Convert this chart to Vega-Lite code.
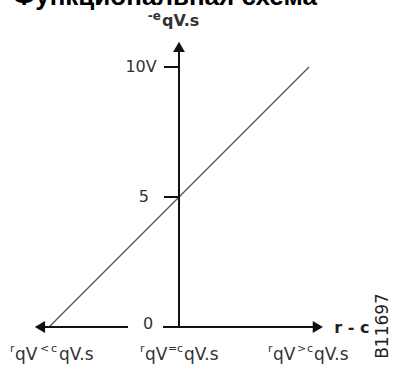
{
  "$schema": "https://vega.github.io/schema/vega-lite/v6.json",
  "width": 401,
  "height": 365,
  "autosize": {"type": "none"},
  "padding": 0,
  "background": "white",
  "config": {"view": {"stroke": null}},
  "datasets": {
    "curve": [{"x": -5, "y": 0}, {"x": 5, "y": 10}],
    "axes": [
      {"x": -1.96, "x2": -5.3, "y": 0, "y2": 0},
      {"x": -0.615, "x2": 5.3, "y": 0, "y2": 0},
      {"x": 0, "x2": 0, "y": 0, "y2": 10.75},
      {"x": -0.58, "x2": 0, "y": 10, "y2": 10},
      {"x": -0.58, "x2": 0, "y": 5, "y2": 5}
    ],
    "heads": [
      {"x": -5.35, "y": 0, "dir": "left"},
      {"x": 5.34, "y": 0, "dir": "right"},
      {"x": 0, "y": 10.77, "dir": "up"}
    ],
    "texts": [
      {"t": "Функциональная схема", "x": -6.385, "y": 12.4, "role": "title"},
      {"t": "0", "x": -1.19, "y": 0.115, "role": "tick"},
      {"t": "5", "x": -1.35, "y": 5.0, "role": "tick"},
      {"t": "10V", "x": -1.46, "y": 10.0, "role": "tick"},
      {"t": "r - c", "x": 6.65, "y": -0.04, "role": "axis"},
      {"t": "B11697", "x": 7.85, "y": 0.04, "role": "code"},
      {"t": "-e", "x": -1.2, "y": 11.82, "role": "topsmall"},
      {"t": "qV.s", "x": -0.654, "y": 11.58, "role": "topbig"},
      {"t": "r", "x": -6.5, "y": -0.96, "role": "subsmall"},
      {"t": "qV", "x": -6.308, "y": -1.27, "role": "subbig"},
      {"t": "<", "x": -5.346, "y": -0.96, "role": "subsmall"},
      {"t": "c", "x": -4.923, "y": -0.96, "role": "subsmall"},
      {"t": "qV.s", "x": -4.615, "y": -1.27, "role": "subbig"},
      {"t": "r", "x": -1.5, "y": -0.96, "role": "subsmall"},
      {"t": "qV", "x": -1.308, "y": -1.27, "role": "subbig"},
      {"t": "=", "x": -0.423, "y": -0.96, "role": "subsmall"},
      {"t": "c", "x": -0.077, "y": -0.96, "role": "subsmall"},
      {"t": "qV.s", "x": 0.192, "y": -1.27, "role": "subbig"},
      {"t": "r", "x": 3.423, "y": -0.96, "role": "subsmall"},
      {"t": "qV", "x": 3.615, "y": -1.27, "role": "subbig"},
      {"t": ">", "x": 4.538, "y": -0.96, "role": "subsmall"},
      {"t": "c", "x": 4.923, "y": -0.96, "role": "subsmall"},
      {"t": "qV.s", "x": 5.192, "y": -1.27, "role": "subbig"}
    ]
  },
  "encoding": {
    "x": {"field": "x", "type": "quantitative", "scale": {"domain": [-6.885, 8.538], "nice": false, "zero": false}, "axis": null},
    "y": {"field": "y", "type": "quantitative", "scale": {"domain": [-1.4615, 12.577], "nice": false, "zero": false}, "axis": null}
  },
  "layer": [
    {
      "data": {"name": "curve"},
      "mark": {"type": "line", "color": "#555555", "strokeWidth": 1.3}
    },
    {
      "data": {"name": "axes"},
      "mark": {"type": "rule", "color": "#111111", "strokeWidth": 2},
      "encoding": {"x2": {"field": "x2"}, "y2": {"field": "y2"}}
    },
    {
      "data": {"name": "heads"},
      "mark": {"type": "point", "filled": true, "color": "#111111", "size": 140, "opacity": 1},
      "encoding": {
        "shape": {"field": "dir", "type": "nominal", "scale": {"domain": ["left", "right", "up"], "range": ["triangle-left", "triangle-right", "triangle-up"]}, "legend": null}
      }
    },
    {
      "data": {"name": "texts"},
      "transform": [{"filter": "datum.role === 'title'"}],
      "mark": {"type": "text", "align": "left", "baseline": "alphabetic", "font": "Liberation Sans", "fontWeight": "bold", "fontSize": 26, "color": "#000000"},
      "encoding": {"text": {"field": "t"}}
    },
    {
      "data": {"name": "texts"},
      "transform": [{"filter": "datum.role === 'tick'"}],
      "mark": {"type": "text", "align": "center", "baseline": "middle", "font": "DejaVu Sans", "fontSize": 16, "color": "#333333"},
      "encoding": {"text": {"field": "t"}}
    },
    {
      "data": {"name": "texts"},
      "transform": [{"filter": "datum.role === 'axis'"}],
      "mark": {"type": "text", "align": "center", "baseline": "middle", "font": "DejaVu Sans", "fontWeight": "bold", "fontSize": 16, "color": "#222222"},
      "encoding": {"text": {"field": "t"}}
    },
    {
      "data": {"name": "texts"},
      "transform": [{"filter": "datum.role === 'code'"}],
      "mark": {"type": "text", "align": "center", "baseline": "middle", "angle": 270, "font": "DejaVu Sans", "fontSize": 17, "color": "#222222"},
      "encoding": {"text": {"field": "t"}}
    },
    {
      "data": {"name": "texts"},
      "transform": [{"filter": "datum.role === 'topsmall'"}],
      "mark": {"type": "text", "align": "left", "baseline": "alphabetic", "font": "DejaVu Sans", "fontWeight": "bold", "fontSize": 12, "color": "#333333"},
      "encoding": {"text": {"field": "t"}}
    },
    {
      "data": {"name": "texts"},
      "transform": [{"filter": "datum.role === 'topbig'"}],
      "mark": {"type": "text", "align": "left", "baseline": "alphabetic", "font": "DejaVu Sans", "fontWeight": "bold", "fontSize": 16, "color": "#333333"},
      "encoding": {"text": {"field": "t"}}
    },
    {
      "data": {"name": "texts"},
      "transform": [{"filter": "datum.role === 'subsmall'"}],
      "mark": {"type": "text", "align": "left", "baseline": "alphabetic", "font": "DejaVu Sans", "fontSize": 11, "color": "#333333"},
      "encoding": {"text": {"field": "t"}}
    },
    {
      "data": {"name": "texts"},
      "transform": [{"filter": "datum.role === 'subbig'"}],
      "mark": {"type": "text", "align": "left", "baseline": "alphabetic", "font": "DejaVu Sans", "fontSize": 17, "color": "#333333"},
      "encoding": {"text": {"field": "t"}}
    }
  ]
}
